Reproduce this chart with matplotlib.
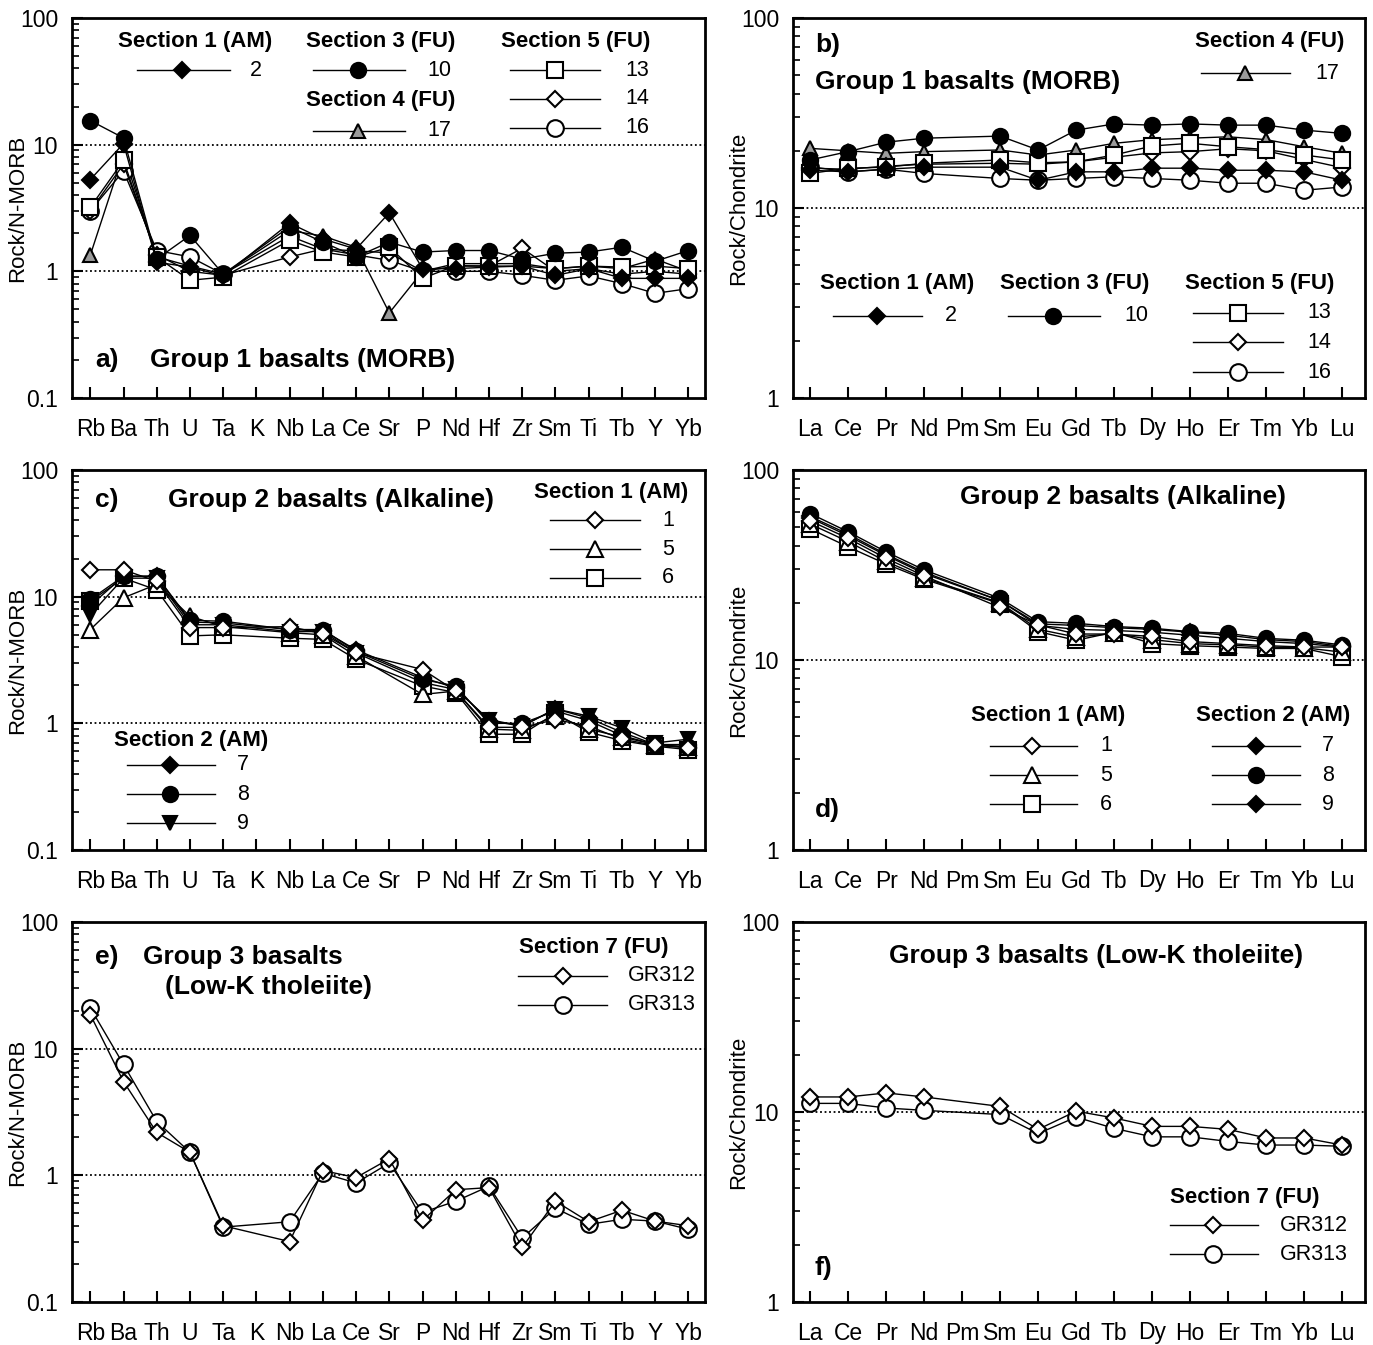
"""Six-panel spider diagrams: N-MORB normalised multi-element plots (left)
and chondrite normalised REE plots (right) for the three basalt groups."""
import matplotlib
matplotlib.use("Agg")
import matplotlib.pyplot as plt
import numpy as np
from matplotlib.ticker import FuncFormatter, NullFormatter, LogLocator

plt.rcParams["font.family"] = ["Liberation Sans", "DejaVu Sans"]

nan = np.nan

# element order on the two kinds of diagram
MORB_ELEMENTS = ["Rb", "Ba", "Th", "U", "Ta", "K", "Nb", "La", "Ce", "Sr",
                 "P", "Nd", "Hf", "Zr", "Sm", "Ti", "Tb", "Y", "Yb"]
REE_ELEMENTS = ["La", "Ce", "Pr", "Nd", "Pm", "Sm", "Eu", "Gd", "Tb", "Dy",
                "Ho", "Er", "Tm", "Yb", "Lu"]

# --- group 1 (MORB), rock / N-MORB ---
g1_morb_2 = [5.3, 10.2, 1.18, 1.08, 0.92, nan, 2.4, 1.8, 1.5, 2.9, 1.05, 1.05, 1.08, 1.1, 0.93, 1.05, 0.88, 0.88, 0.88]
g1_morb_10 = [15.5, 11.3, 1.25, 1.92, 0.95, nan, 2.25, 1.7, 1.3, 1.7, 1.42, 1.46, 1.46, 1.25, 1.39, 1.42, 1.55, 1.2, 1.46]
g1_morb_17 = [1.34, 8.5, 1.3, 1.1, 0.95, nan, 2.1, 1.9, 1.55, 0.47, 1.0, 1.15, 1.15, 1.15, 1.05, 1.1, 1.05, 1.25, 1.0]
g1_morb_13 = [3.2, 7.5, 1.3, 0.85, 0.9, nan, 1.76, 1.42, 1.3, 1.55, 0.88, 1.11, 1.1, 1.1, 1.05, 1.1, 1.08, 1.1, 1.05]
g1_morb_14 = [3.0, 7.0, 1.35, 1.0, 0.93, nan, 1.3, 1.5, 1.45, 1.4, 1.0, 1.1, 1.1, 1.52, 1.0, 1.05, 0.95, 1.0, 0.95]
g1_morb_16 = [3.0, 6.2, 1.46, 1.3, 0.95, nan, 1.9, 1.5, 1.35, 1.22, 1.0, 1.0, 1.0, 0.93, 0.85, 0.92, 0.8, 0.67, 0.73]

# --- group 1 (MORB), rock / chondrite ---
g1_ree_2 = [15.8, 15.5, 16.0, 16.4, nan, 16.4, 14.0, 15.5, 15.5, 16.2, 16.2, 15.8, 15.8, 15.5, 14.0]
g1_ree_10 = [17.9, 19.8, 22.2, 23.3, nan, 23.9, 20.2, 25.7, 27.7, 27.3, 27.7, 27.3, 27.3, 25.7, 24.7]
g1_ree_17 = [20.6, 20.0, 19.4, 19.8, nan, 20.2, 19.0, 20.2, 21.9, 22.9, 23.3, 23.7, 22.9, 21.0, 19.4]
g1_ree_13 = [15.2, 16.2, 16.4, 17.2, nan, 17.9, 17.3, 17.5, 19.0, 21.2, 21.9, 21.0, 20.3, 19.0, 17.9]
g1_ree_14 = [16.2, 16.0, 16.6, 17.0, nan, 17.2, 17.0, 17.5, 18.5, 19.5, 19.8, 20.5, 20.0, 18.0, 16.3]
g1_ree_16 = [16.5, 15.5, 16.0, 15.2, nan, 14.3, 14.0, 14.3, 14.6, 14.3, 14.0, 13.5, 13.5, 12.4, 12.9]

# --- group 2 (alkaline), rock / N-MORB ---
g2_morb_1 = [16.3, 16.3, 13.2, 5.7, 5.7, nan, 5.8, 5.1, 3.6, nan, 2.66, 1.8, 0.93, 0.93, 1.07, 0.95, 0.75, 0.67, 0.64]
g2_morb_5 = [5.5, 9.8, 12.5, 7.0, 5.8, nan, 5.2, 5.0, 3.4, nan, 1.69, 1.8, 0.9, 0.88, 1.15, 0.9, 0.78, 0.68, 0.65]
g2_morb_6 = [9.2, 14.0, 11.3, 4.9, 5.0, nan, 4.7, 4.6, 3.2, nan, 1.97, 1.75, 0.82, 0.82, 1.2, 0.85, 0.73, 0.66, 0.62]
g2_morb_7 = [8.5, 14.5, 14.5, 6.3, 6.2, nan, 5.5, 5.4, 3.8, nan, 2.3, 1.9, 1.05, 0.95, 1.3, 1.1, 0.85, 0.68, 0.68]
g2_morb_8 = [9.5, 14.5, 14.5, 6.5, 6.4, nan, 5.5, 5.5, 3.7, nan, 2.22, 1.97, 1.0, 1.0, 1.25, 1.05, 0.8, 0.68, 0.65]
g2_morb_9 = [7.2, 14.0, 14.0, 6.0, 6.0, nan, 5.3, 5.3, 3.6, nan, 2.1, 1.85, 1.07, 0.95, 1.3, 1.14, 0.92, 0.7, 0.75]

# --- group 2 (alkaline), rock / chondrite ---
g2_ree_1 = [54, 43.7, 34.3, 27.7, nan, 18.9, 15.3, 13.7, 13.7, 13.3, 12.5, 12.2, 11.9, 11.7, 11.7]
g2_ree_5 = [52, 42, 33, 27, nan, 20.0, 14.5, 13.2, 13.8, 12.8, 12.2, 12.0, 11.7, 11.6, 11.0]
g2_ree_6 = [49, 39.4, 32, 26.6, nan, 19.8, 14.1, 12.7, 14.0, 12.2, 11.9, 11.7, 11.5, 11.5, 10.4]
g2_ree_7 = [57, 46, 36, 29, nan, 20.5, 15.5, 15.2, 14.8, 14.5, 14.0, 13.5, 12.8, 12.5, 11.8]
g2_ree_8 = [59, 47.3, 37.1, 29.8, nan, 21.1, 15.9, 15.6, 15.0, 14.7, 14.1, 13.8, 13.0, 12.7, 12.0]
g2_ree_9 = [56, 45, 35.5, 28.5, nan, 20.5, 15.2, 14.5, 14.3, 14.0, 13.5, 13.0, 12.5, 12.2, 11.7]

# --- group 3 (low-K tholeiite) ---
g3_morb_gr312 = [18.6, 5.5, 2.18, 1.52, 0.40, nan, 0.30, 1.09, 0.96, 1.35, 0.44, 0.77, 0.80, 0.27, 0.625, 0.43, 0.53, 0.435, 0.40]
g3_morb_gr313 = [21.0, 7.5, 2.66, 1.52, 0.39, nan, 0.43, 1.04, 0.87, 1.25, 0.51, 0.625, 0.82, 0.32, 0.55, 0.41, 0.45, 0.435, 0.375]
g3_ree_gr312 = [12.0, 12.0, 12.6, 12.0, nan, 10.7, 8.1, 10.1, 9.3, 8.4, 8.4, 8.1, 7.3, 7.3, 6.7]
g3_ree_gr313 = [11.1, 11.1, 10.5, 10.2, nan, 9.7, 7.7, 9.4, 8.2, 7.4, 7.4, 7.0, 6.7, 6.7, 6.6]

# marker styles
BLACK_D = dict(marker="D", ms=8, mfc="black", mec="black")
BLACK_O = dict(marker="o", ms=11, mfc="black", mec="black")
GREY_T = dict(marker="^", ms=10, mfc="#9a9a9a", mec="black")
OPEN_S = dict(marker="s", ms=11, mfc="white", mec="black")
OPEN_D = dict(marker="D", ms=8.5, mfc="white", mec="black")
OPEN_O = dict(marker="o", ms=12, mfc="white", mec="black")
OPEN_T = dict(marker="^", ms=11, mfc="white", mec="black")
BLACK_V = dict(marker="v", ms=10, mfc="black", mec="black")

TICK_FS = 16.5
TITLE_FS = 19
LEG_TITLE_FS = 16
LEG_FS = 15.5
YLABEL_FS = 16


def plot_series(ax, values, style, z=3):
    vals = np.asarray(values, dtype=float)
    x = np.arange(len(vals))
    ok = ~np.isnan(vals)
    ax.plot(x[ok], vals[ok], color="black", lw=1.0, mew=1.5, zorder=z, **style)


def setup_axes(ax, elements, ymin, ymax, ylabel, refs, label_x):
    ax.set_yscale("log")
    ax.set_ylim(ymin, ymax)
    n = len(elements)
    if n == 19:
        ax.set_xlim(-0.55, n - 0.5)
    else:
        ax.set_xlim(-0.45, n - 0.4)
    ax.set_xticks(np.arange(n))
    ax.set_xticklabels(elements, fontsize=TICK_FS, va="baseline")
    ax.yaxis.set_major_locator(LogLocator(base=10, numticks=10))
    ax.yaxis.set_minor_locator(LogLocator(base=10, subs=np.arange(2, 10), numticks=10))
    ax.yaxis.set_major_formatter(FuncFormatter(lambda v, _: f"{v:g}"))
    ax.yaxis.set_minor_formatter(NullFormatter())
    ax.tick_params(axis="both", which="major", direction="in", length=8, width=1.5,
                   labelsize=TICK_FS, top=False, right=False)
    ax.tick_params(axis="x", which="major", pad=27)
    ax.tick_params(axis="y", which="major", pad=10)
    ax.tick_params(axis="y", which="minor", direction="in", length=5, width=1.2, right=False)
    ax.tick_params(axis="x", which="minor", bottom=False)
    for sp in ax.spines.values():
        sp.set_linewidth(2)
    ax.set_ylabel(ylabel, fontsize=YLABEL_FS)
    ax.yaxis.set_label_coords(label_x, 0.5)
    for r in refs:
        ax.axhline(r, color="black", ls=(0, (1, 1.5)), lw=1.3, zorder=1)


def legend_block(ax, title, tx, ty, x0, x1, xm, xl, ys, entries):
    """Hand-drawn legend group: bold title, then line-marker-label rows."""
    ax.text(tx, ty, title, transform=ax.transAxes, ha="center", va="center",
            fontsize=LEG_TITLE_FS, fontweight="bold")
    for yy, (label, style) in zip(ys, entries):
        ax.plot([x0, x1], [yy, yy], color="black", lw=1.0, transform=ax.transAxes,
                clip_on=False, zorder=5)
        ax.plot([xm], [yy], color="black", mew=1.5, transform=ax.transAxes,
                clip_on=False, zorder=6, **style)
        ax.text(xl, yy, label, transform=ax.transAxes, ha="left", va="center",
                fontsize=LEG_FS)


fig = plt.figure(figsize=(13.73, 13.45), dpi=100)
W, H = 1373.0, 1345.0


def add_axes_px(left, right, top, bottom):
    return fig.add_axes([left / W, 1 - bottom / H, (right - left) / W, (bottom - top) / H])


ax_a = add_axes_px(72, 705, 18, 398)
ax_b = add_axes_px(793, 1365, 18, 398)
ax_c = add_axes_px(72, 705, 470, 850)
ax_d = add_axes_px(793, 1365, 470, 850)
ax_e = add_axes_px(72, 705, 922, 1302)
ax_f = add_axes_px(793, 1365, 922, 1302)

for ax in (ax_a, ax_c, ax_e):
    setup_axes(ax, MORB_ELEMENTS, 0.1, 100, "Rock/N-MORB", [1, 10], -0.069)
for ax in (ax_b, ax_d, ax_f):
    setup_axes(ax, REE_ELEMENTS, 1, 100, "Rock/Chondrite", [10], -0.076)

# ---- panel a ----
for vals, st in [(g1_morb_17, GREY_T), (g1_morb_16, OPEN_O), (g1_morb_14, OPEN_D),
                 (g1_morb_13, OPEN_S), (g1_morb_2, BLACK_D), (g1_morb_10, BLACK_O)]:
    plot_series(ax_a, vals, st)
ax_a.text(0.036, 0.10, "a)", transform=ax_a.transAxes, fontsize=TITLE_FS, fontweight="bold", va="center")
ax_a.text(0.123, 0.10, "Group 1 basalts (MORB)", transform=ax_a.transAxes, fontsize=TITLE_FS,
          fontweight="bold", va="center")
legend_block(ax_a, "Section 1 (AM)", 0.194, 0.937, 0.103, 0.25, 0.174, 0.281, [0.863], [("2", BLACK_D)])
legend_block(ax_a, "Section 3 (FU)", 0.487, 0.937, 0.381, 0.526, 0.452, 0.562, [0.863], [("10", BLACK_O)])
legend_block(ax_a, "Section 4 (FU)", 0.487, 0.784, 0.381, 0.526, 0.452, 0.562, [0.703], [("17", GREY_T)])
legend_block(ax_a, "Section 5 (FU)", 0.796, 0.937, 0.692, 0.834, 0.763, 0.874, [0.863, 0.787, 0.711],
             [("13", OPEN_S), ("14", OPEN_D), ("16", OPEN_O)])

# ---- panel b ----
for vals, st in [(g1_ree_17, GREY_T), (g1_ree_16, OPEN_O), (g1_ree_14, OPEN_D),
                 (g1_ree_13, OPEN_S), (g1_ree_2, BLACK_D), (g1_ree_10, BLACK_O)]:
    plot_series(ax_b, vals, st)
ax_b.text(0.038, 0.929, "b)", transform=ax_b.transAxes, fontsize=TITLE_FS, fontweight="bold", va="center")
ax_b.text(0.038, 0.832, "Group 1 basalts (MORB)", transform=ax_b.transAxes, fontsize=TITLE_FS,
          fontweight="bold", va="center")
legend_block(ax_b, "Section 4 (FU)", 0.834, 0.937, 0.713, 0.869, 0.790, 0.913, [0.855], [("17", GREY_T)])
legend_block(ax_b, "Section 1 (AM)", 0.182, 0.30, 0.07, 0.226, 0.147, 0.266, [0.216], [("2", BLACK_D)])
legend_block(ax_b, "Section 3 (FU)", 0.493, 0.30, 0.376, 0.537, 0.455, 0.58, [0.216], [("10", BLACK_O)])
legend_block(ax_b, "Section 5 (FU)", 0.816, 0.30, 0.699, 0.857, 0.778, 0.9, [0.224, 0.147, 0.068],
             [("13", OPEN_S), ("14", OPEN_D), ("16", OPEN_O)])

# ---- panel c ----
for vals, st in [(g2_morb_6, OPEN_S), (g2_morb_5, OPEN_T), (g2_morb_9, BLACK_V),
                 (g2_morb_8, BLACK_O), (g2_morb_7, BLACK_D), (g2_morb_1, OPEN_D)]:
    plot_series(ax_c, vals, st)
ax_c.text(0.036, 0.921, "c)", transform=ax_c.transAxes, fontsize=TITLE_FS, fontweight="bold", va="center")
ax_c.text(0.152, 0.921, "Group 2 basalts (Alkaline)", transform=ax_c.transAxes, fontsize=TITLE_FS,
          fontweight="bold", va="center")
legend_block(ax_c, "Section 1 (AM)", 0.852, 0.942, 0.755, 0.897, 0.826, 0.932, [0.868, 0.792, 0.716],
             [("1", OPEN_D), ("5", OPEN_T), ("6", OPEN_S)])
legend_block(ax_c, "Section 2 (AM)", 0.188, 0.287, 0.087, 0.226, 0.155, 0.261, [0.224, 0.147, 0.071],
             [("7", BLACK_D), ("8", BLACK_O), ("9", BLACK_V)])

# ---- panel d ----
for vals, st in [(g2_ree_6, OPEN_S), (g2_ree_5, OPEN_T), (g2_ree_9, BLACK_D),
                 (g2_ree_8, BLACK_O), (g2_ree_7, BLACK_D), (g2_ree_1, OPEN_D)]:
    plot_series(ax_d, vals, st)
ax_d.text(0.577, 0.929, "Group 2 basalts (Alkaline)", transform=ax_d.transAxes, fontsize=TITLE_FS,
          fontweight="bold", va="center", ha="center")
ax_d.text(0.038, 0.105, "d)", transform=ax_d.transAxes, fontsize=TITLE_FS, fontweight="bold", va="center")
legend_block(ax_d, "Section 1 (AM)", 0.446, 0.353, 0.344, 0.497, 0.418, 0.537, [0.274, 0.197, 0.121],
             [("1", OPEN_D), ("5", OPEN_T), ("6", OPEN_S)])
legend_block(ax_d, "Section 2 (AM)", 0.839, 0.353, 0.733, 0.886, 0.809, 0.925, [0.274, 0.197, 0.121],
             [("7", BLACK_D), ("8", BLACK_O), ("9", BLACK_D)])

# ---- panel e ----
plot_series(ax_e, g3_morb_gr313, OPEN_O)
plot_series(ax_e, g3_morb_gr312, OPEN_D)
ax_e.text(0.036, 0.908, "e)", transform=ax_e.transAxes, fontsize=TITLE_FS, fontweight="bold", va="center")
ax_e.text(0.112, 0.908, "Group 3 basalts", transform=ax_e.transAxes, fontsize=TITLE_FS,
          fontweight="bold", va="center")
ax_e.text(0.147, 0.829, "(Low-K tholeiite)", transform=ax_e.transAxes, fontsize=TITLE_FS,
          fontweight="bold", va="center")
legend_block(ax_e, "Section 7 (FU)", 0.825, 0.932, 0.705, 0.845, 0.776, 0.878, [0.858, 0.782],
             [("GR312", OPEN_D), ("GR313", OPEN_O)])

# ---- panel f ----
plot_series(ax_f, g3_ree_gr313, OPEN_O)
plot_series(ax_f, g3_ree_gr312, OPEN_D)
ax_f.text(0.530, 0.911, "Group 3 basalts (Low-K tholeiite)", transform=ax_f.transAxes, fontsize=TITLE_FS,
          fontweight="bold", va="center", ha="center")
ax_f.text(0.038, 0.089, "f)", transform=ax_f.transAxes, fontsize=TITLE_FS, fontweight="bold", va="center")
legend_block(ax_f, "Section 7 (FU)", 0.79, 0.276, 0.659, 0.813, 0.734, 0.851, [0.202, 0.126],
             [("GR312", OPEN_D), ("GR313", OPEN_O)])

fig.savefig("out.png", dpi=100)
